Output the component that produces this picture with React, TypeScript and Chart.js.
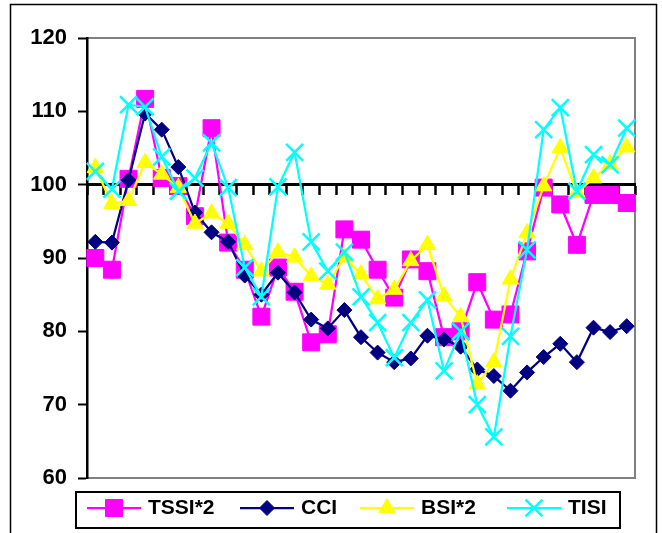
import React, { useEffect, useRef } from 'react';
import { Chart, registerables } from 'chart.js';

Chart.register(...registerables);

const categories = ['1', '2', '3', '4', '5', '6', '7', '8', '9', '10', '11', '12', '13', '14', '15', '16', '17', '18', '19', '20', '21', '22', '23', '24', '25', '26', '27', '28', '29', '30', '31', '32', '33'];

const tssi2 = [90.0, 88.4, 100.8, 111.7, 100.9, 99.8, 95.7, 107.7, 92.1, 88.4, 82.0, 88.7, 85.4, 78.5, 79.6, 93.9, 92.5, 88.4, 84.6, 89.8, 88.2, 79.2, 80.0, 86.7, 81.6, 82.3, 90.9, 99.6, 97.3, 91.8, 98.6, 98.6, 97.5];
const cci = [92.2, 92.1, 100.6, 109.7, 107.5, 102.4, 96.2, 93.5, 92.2, 87.6, 85.0, 88.0, 85.3, 81.6, 80.4, 82.9, 79.2, 77.1, 75.8, 76.3, 79.4, 78.9, 77.9, 74.8, 73.9, 71.9, 74.4, 76.5, 78.3, 75.8, 80.5, 79.9, 80.7];
const bsi2 = [102.3, 97.4, 97.8, 103.0, 101.4, 99.6, 94.7, 96.1, 94.7, 91.8, 88.2, 90.8, 90.1, 87.5, 86.4, 90.1, 87.8, 84.4, 85.7, 89.6, 91.8, 84.8, 82.0, 72.8, 75.8, 87.1, 93.4, 99.8, 105.0, 98.9, 100.9, 102.8, 105.1];
const tisi = [101.8, 99.4, 110.9, 110.6, 103.8, 99.1, 100.9, 105.7, 99.6, 88.7, 84.7, 99.7, 104.4, 92.2, 88.2, 90.8, 84.7, 81.2, 76.4, 81.2, 84.3, 74.6, 80.0, 70.0, 65.6, 79.3, 91.1, 107.5, 110.5, 99.1, 104.1, 102.7, 107.7];

const seriesNames = ['TSSI*2', 'CCI', 'BSI*2', 'TISI'];
const yTicks = [60, 70, 80, 90, 100, 110, 120];
const xAxisCross = 100;

const FONT = '"Liberation Sans", Arial, sans-serif';

function drawMarker(ctx: CanvasRenderingContext2D, style: string, x: number, y: number, r: number, fill: string, stroke: string, bw: number) {
  ctx.save();
  ctx.fillStyle = fill;
  ctx.strokeStyle = stroke;
  ctx.lineWidth = bw;
  ctx.beginPath();
  if (style === 'rect') {
    const s = Math.SQRT1_2 * r;
    ctx.rect(x - s, y - s, 2 * s, 2 * s);
    ctx.fill();
    ctx.stroke();
  } else if (style === 'rectRot') {
    ctx.moveTo(x - r, y);
    ctx.lineTo(x, y - r);
    ctx.lineTo(x + r, y);
    ctx.lineTo(x, y + r);
    ctx.closePath();
    ctx.fill();
    ctx.stroke();
  } else if (style === 'triangle') {
    ctx.moveTo(x, y - r);
    ctx.lineTo(x + r * Math.sin(Math.PI / 3), y + r / 2);
    ctx.lineTo(x - r * Math.sin(Math.PI / 3), y + r / 2);
    ctx.closePath();
    ctx.fill();
    ctx.stroke();
  } else if (style === 'crossRot') {
    const o = Math.SQRT1_2 * r;
    ctx.moveTo(x - o, y - o);
    ctx.lineTo(x + o, y + o);
    ctx.moveTo(x - o, y + o);
    ctx.lineTo(x + o, y - o);
    ctx.stroke();
  }
  ctx.restore();
}

const framePlugin = {
  id: 'frame',
  beforeDraw(chart: any) {
    const { ctx, chartArea: a } = chart;
    ctx.save();
    ctx.fillStyle = '#ffffff';
    ctx.fillRect(0, 0, chart.width, chart.height);
    ctx.strokeStyle = '#000000';
    ctx.lineWidth = 1.5;
    ctx.strokeRect(10.5, 4.5, 646, 600);
    ctx.strokeStyle = '#808080';
    ctx.lineWidth = 2;
    ctx.strokeRect(a.left, a.top, a.right - a.left, a.bottom - a.top);
    ctx.restore();
  },
};

const legendPlugin = {
  id: 'boxLegend',
  afterDraw(chart: any) {
    const ctx = chart.ctx as CanvasRenderingContext2D;
    ctx.save();
    ctx.strokeStyle = '#000000';
    ctx.lineWidth = 2;
    ctx.strokeRect(76, 492, 544, 36);
    const starts = [87, 240, 360, 507];
    const cy = 508;
    chart.data.datasets.forEach((ds: any, i: number) => {
      const x0 = starts[i];
      ctx.strokeStyle = ds.borderColor;
      ctx.lineWidth = ds.borderWidth;
      ctx.beginPath();
      ctx.moveTo(x0, cy);
      ctx.lineTo(x0 + 54, cy);
      ctx.stroke();
      drawMarker(ctx, ds.pointStyle, x0 + 27, cy, ds.pointRadius, ds.pointBackgroundColor, ds.pointBorderColor, ds.pointBorderWidth);
      ctx.fillStyle = '#000000';
      ctx.font = 'bold 21px ' + FONT;
      ctx.textBaseline = 'middle';
      ctx.textAlign = 'left';
      ctx.fillText(ds.label, x0 + 61, cy);
    });
    ctx.restore();
  },
};

export default function App() {
  const ref = useRef<HTMLCanvasElement | null>(null);

  useEffect(() => {
    document.body.style.margin = '0';
    const canvas = ref.current;
    if (!canvas) return;
    const chart = new Chart(canvas, {
      type: 'line',
      data: {
        labels: categories,
        datasets: [
          {
            label: seriesNames[0],
            data: tssi2,
            borderColor: '#FF00FF',
            backgroundColor: '#FF00FF',
            borderWidth: 2.25,
            pointStyle: 'rect',
            pointRadius: 12,
            pointBackgroundColor: '#FF00FF',
            pointBorderColor: '#FF00FF',
            pointBorderWidth: 1,
            tension: 0,
            order: 4,
          },
          {
            label: seriesNames[1],
            data: cci,
            borderColor: '#000080',
            backgroundColor: '#000080',
            borderWidth: 2.25,
            pointStyle: 'rectRot',
            pointRadius: 7.5,
            pointBackgroundColor: '#000080',
            pointBorderColor: '#000080',
            pointBorderWidth: 1,
            tension: 0,
            order: 3,
          },
          {
            label: seriesNames[2],
            data: bsi2,
            borderColor: '#FFFF00',
            backgroundColor: '#FFFF00',
            borderWidth: 2.25,
            pointStyle: 'triangle',
            pointRadius: 9.5,
            pointBackgroundColor: '#FFFF00',
            pointBorderColor: '#FFFF00',
            pointBorderWidth: 1,
            tension: 0,
            order: 2,
          },
          {
            label: seriesNames[3],
            data: tisi,
            borderColor: '#00FFFF',
            backgroundColor: '#00FFFF',
            borderWidth: 2.25,
            pointStyle: 'crossRot',
            pointRadius: 12,
            pointBackgroundColor: '#00FFFF',
            pointBorderColor: '#00FFFF',
            pointBorderWidth: 2.5,
            tension: 0,
            order: 1,
          },
        ],
      },
      options: {
        responsive: false,
        animation: false,
        devicePixelRatio: 1,
        layout: { padding: { left: 0, top: 38, right: 27, bottom: 55 } },
        plugins: {
          legend: { display: false },
          tooltip: { enabled: false },
          title: { display: false },
        },
        scales: {
          x: {
            type: 'category',
            offset: true,
            position: { y: xAxisCross } as any,
            grid: {
              offset: true,
              drawOnChartArea: false,
              drawTicks: true,
              tickLength: 9,
              tickWidth: 2.5,
              color: '#000000',
            },
            border: { display: true, color: '#000000', width: 3 },
            ticks: { display: false, autoSkip: false },
          },
          y: {
            type: 'linear',
            position: 'left',
            min: yTicks[0],
            max: yTicks[yTicks.length - 1],
            afterFit(s: any) {
              s.width = 87;
            },
            afterBuildTicks(s: any) {
              s.ticks = yTicks.map((v) => ({ value: v }));
            },
            grid: {
              drawOnChartArea: false,
              drawTicks: true,
              tickLength: 9,
              tickWidth: 2,
              color: '#000000',
            },
            border: { display: true, color: '#000000', width: 2.5 },
            ticks: {
              color: '#000000',
              padding: 11,
              font: { family: FONT, size: 22, weight: 'bold' },
            },
          },
        },
      },
      plugins: [framePlugin, legendPlugin],
    });
    return () => chart.destroy();
  }, []);

  return <canvas ref={ref} width={662} height={533} style={{ display: 'block' }} />;
}
